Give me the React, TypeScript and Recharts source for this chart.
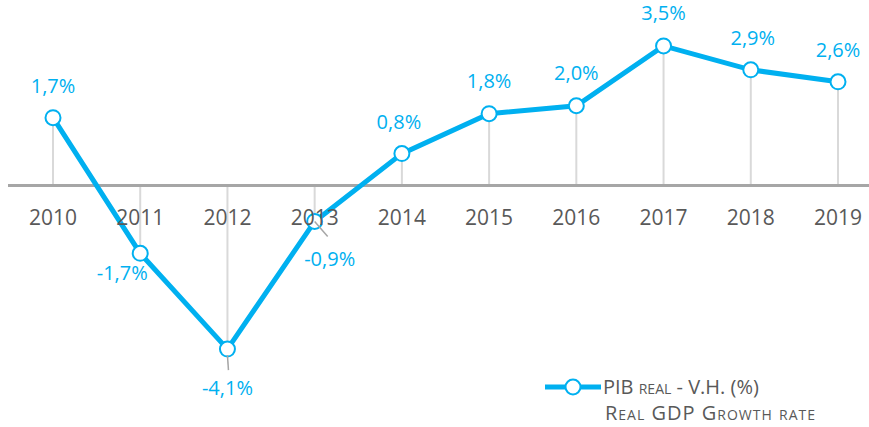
import { LineChart, Line, XAxis, YAxis, ReferenceLine, LabelList } from "recharts"

const years = ["2010", "2011", "2012", "2013", "2014", "2015", "2016", "2017", "2018", "2019"]
const gdpGrowth = [1.7, -1.7, -4.1, -0.9, 0.8, 1.8, 2.0, 3.5, 2.9, 2.6]
const seriesName = "PIB real - V.H. (%)"
const seriesSubtitle = "Real GDP Growth rate"

const data = years.map((year, i) => ({ year, value: gdpGrowth[i] }))

const WIDTH = 869
const HEIGHT = 427
const X_AXIS_H = 30
const MARGIN = { top: 6, right: 0, bottom: 12, left: 8 }
const Y_MIN = -5
const Y_MAX = 4.5
const PLOT_H = HEIGHT - MARGIN.top - MARGIN.bottom - X_AXIS_H
const ZERO_Y = MARGIN.top + (PLOT_H * Y_MAX) / (Y_MAX - Y_MIN)

const BLUE = "#00B0F0"
const GREY_TEXT = "#595959"
const FONT = "'Open Sans', sans-serif"

// label placement relative to each point (text centre)
const labelOffsets: [number, number][] = [
  [0, -32], [-18, 20], [0, 39], [15, 38], [-3, -32],
  [0, -33], [0, -33], [0, -33], [2, -32], [0, -32],
]

const fmt = (v: number) => v.toFixed(1).replace(".", ",") + "%"

const YearTick = ({ x, payload }: any) => (
  <text x={x} y={ZERO_Y + 39} textAnchor="middle" fill={GREY_TEXT} fontSize={21} fontFamily={FONT}>
    {payload.value}
  </text>
)

const PointLabel = ({ x, y, value, index }: any) => {
  const [dx, dy] = labelOffsets[index] ?? [0, -32]
  return (
    <g>
      {index === 3 && <line x1={x} y1={y} x2={x + 13} y2={y + 15} stroke="#A6A6A6" strokeWidth={1.5} />}
      {index === 2 && <line x1={x} y1={y + 6} x2={x + 1} y2={y + 21} stroke="#A6A6A6" strokeWidth={1.5} />}
      <text x={x + dx} y={y + dy + 7} textAnchor="middle" fill={BLUE} fontSize={20} fontFamily={FONT}>
        {fmt(value)}
      </text>
    </g>
  )
}

export default function App() {
  return (
    <div style={{ position: "absolute", left: 0, top: 0, width: WIDTH, height: HEIGHT, background: "#fff" }}>
      <LineChart width={WIDTH} height={HEIGHT} data={data} margin={MARGIN}>
        <XAxis
          dataKey="year"
          axisLine={false}
          tickLine={false}
          height={X_AXIS_H}
          padding={{ left: 45, right: 31 }}
          tick={<YearTick />}
          interval={0}
        />
        <YAxis hide domain={[Y_MIN, Y_MAX]} />
        {data.map((d) => (
          <ReferenceLine
            key={d.year}
            segment={[{ x: d.year, y: 0 }, { x: d.year, y: d.value }]}
            stroke="#D9D9D9"
            strokeWidth={2}
          />
        ))}
        <ReferenceLine y={0} stroke="#A6A6A6" strokeWidth={3} />
        <Line
          type="linear"
          dataKey="value"
          name={seriesName}
          stroke={BLUE}
          strokeWidth={5}
          dot={{ r: 7.5, fill: "#fff", stroke: BLUE, strokeWidth: 2 }}
          activeDot={false}
          isAnimationActive={false}
        >
          <LabelList dataKey="value" content={<PointLabel />} />
        </Line>
      </LineChart>
      <div style={{ position: "absolute", left: 545, top: 374, fontFamily: FONT, color: GREY_TEXT, fontSize: 20, lineHeight: "26px" }}>
        <div style={{ display: "flex", alignItems: "center" }}>
          <svg width={58} height={20} style={{ display: "block" }}>
            <line x1={0} y1={10} x2={56} y2={10} stroke={BLUE} strokeWidth={5} />
            <circle cx={28} cy={10} r={7.5} fill="#fff" stroke={BLUE} strokeWidth={2} />
          </svg>
          <span style={{ fontVariant: "small-caps" }}>{seriesName}</span>
        </div>
        <div style={{ paddingLeft: 60, fontVariant: "small-caps", letterSpacing: 1 }}>{seriesSubtitle}</div>
      </div>
    </div>
  )
}
